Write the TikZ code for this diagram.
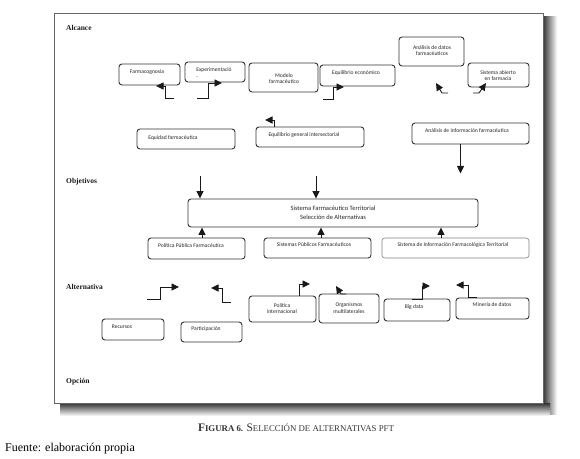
\documentclass[tikz,border=0pt]{standalone}
\usepackage{fontspec}
\setmainfont{Liberation Serif}
\newfontfamily\boxfont{Carlito}
\usetikzlibrary{arrows.meta}
\tikzset{
  box/.style={draw=black!80, line width=0.9pt, rounded corners=3pt, fill=white, inner sep=0pt},
  lbl/.style={font=\boxfont\fontsize{5.6}{6.8}\selectfont, align=center, inner sep=0pt, text=black!85},
  sec/.style={font=\bfseries\fontsize{7.5}{9}\selectfont, anchor=west, inner sep=0pt, text=black!90},
  arr/.style={line width=0.9pt, draw=black!90, -{Triangle[length=7.5pt,width=7pt]}},
}
\begin{document}
\begin{tikzpicture}[x=1pt,y=-1pt]
\useasboundingbox (0,0) rectangle (580,458);
% shadow and frame
\shade[left color=black!80, right color=white] (543,16) rectangle (557,414);
\shade[top color=black!80, bottom color=white] (60,403) rectangle (550,416);
\draw[draw=black!60, line width=0.8pt, fill=white] (54,13) rectangle (543,403);
% section labels
\node[sec] (alc) at (66,28) {Alcance};
\node[sec] (obj) at (66,182) {Objetivos};
\node[sec] (alt) at (66,287) {Alternativa};
\node[sec] (opc) at (66,382) {Opción};
% Alcance boxes
\node[box, minimum width=61pt, minimum height=21pt] (farm) at (149.5,74.5) {};
\node[lbl] (tfarm) at (147,72) {Farmacognosia};
\node[box, minimum width=60pt, minimum height=20pt] (exp) at (215,72) {};
\node[lbl, align=left] (texp) at (214,73) {Experimentació\\-};
\node[box, minimum width=69pt, minimum height=29pt] (mod) at (283.5,77.5) {};
\node[lbl] (tmod) at (284,78.5) {Modelo\\farmacéutico};
\node[box, minimum width=75pt, minimum height=21pt] (eqe) at (357.5,75.5) {};
\node[lbl] (teqe) at (356,73) {Equilibrio económico};
\node[box, minimum width=65pt, minimum height=29pt] (adf) at (431.5,51.5) {};
\node[lbl] (tadf) at (432,50.5) {Análisis de datos\\farmacéuticos};
\node[box, minimum width=61pt, minimum height=24pt] (saf) at (498.5,75) {};
\node[lbl] (tsaf) at (498,75.5) {Sistema abierto\\en farmacia};
\node[box, minimum width=98pt, minimum height=20pt] (eqf) at (186,139) {};
\node[lbl] (teqf) at (173,138) {Equidad farmacéutica};
\node[box, minimum width=108pt, minimum height=20pt] (egi) at (310,137) {};
\node[lbl] (tegi) at (304,135) {Equilibrio general intersectorial};
\node[box, minimum width=117pt, minimum height=21pt] (aif) at (470.5,133.5) {};
\node[lbl] (taif) at (467,131) {Análisis de información farmacéutica};
% Objetivos
\node[box, minimum width=290pt, minimum height=28pt] (cb) at (333,213) {};
\node[lbl, font=\boxfont\fontsize{6.5}{9.5}\selectfont] (tcb) at (333,213) {Sistema Farmacéutico Territorial\\Selección de Alternativas};
\node[box, minimum width=97pt, minimum height=21pt] (ppf) at (196.5,248.5) {};
\node[lbl] (tppf) at (191,246) {Política Pública Farmacéutica};
\node[box, minimum width=107pt, minimum height=20pt] (spf) at (317.5,248) {};
\node[lbl] (tspf) at (314,245) {Sistemas Públicos Farmacéuticos};
\node[box, draw=black!50, line width=0.6pt, minimum width=147pt, minimum height=20pt] (sif) at (455.5,248) {};
\node[lbl] (tsif) at (453,245) {Sistema de Información Farmacológica Territorial};
% Alternativa
\node[box, minimum width=62pt, minimum height=21pt] (rec) at (133,329.5) {};
\node[lbl] (trec) at (122,327) {Recursos};
\node[box, minimum width=61pt, minimum height=20pt] (par) at (211.5,332) {};
\node[lbl] (tpar) at (206,329) {Participación};
\node[box, minimum width=67pt, minimum height=26pt] (pin) at (282.5,309) {};
\node[lbl] (tpin) at (282,308.5) {Política\\internacional};
\node[box, minimum width=60pt, minimum height=29pt] (org) at (349,308.5) {};
\node[lbl] (torg) at (349,308) {Organismos\\multilaterales};
\node[box, minimum width=66pt, minimum height=22pt] (big) at (417,310) {};
\node[lbl] (tbig) at (414,307) {Big data};
\node[box, minimum width=73pt, minimum height=21pt] (min) at (492.5,308.5) {};
\node[lbl] (tmin) at (492,305) {Minería de datos};
% coordinates for straight arrows
\coordinate (t1) at (200,176);
\coordinate (t2) at (316,176);
\coordinate (u1) at (202,0);
\coordinate (u2) at (321,0);
\coordinate (u3) at (441,0);
\draw[arr] (t1) -- (t1 |- cb.north);
\draw[arr] (t2) -- (t2 |- cb.north);
\draw[arr] ([xshift=-10pt]aif.south) -- ++(0,29);
\draw[arr] (u1 |- ppf.north) -- (u1 |- cb.south);
\draw[arr] (u2 |- spf.north) -- (u2 |- cb.south);
\draw[arr] (u3 |- sif.north) -- (u3 |- cb.south);
% elbow arrows (free ends)
\coordinate (a1) at (174,98);   \coordinate (b1) at (165,86);
\draw[arr] (a1) -| (b1) -- (156,86);
\coordinate (a2) at (197,98);   \coordinate (b2) at (208,83);
\draw[arr] (a2) -| (b2) -- (222,83);
\coordinate (a3) at (323,99);   \coordinate (b3) at (333,87);
\draw[arr] (a3) -| (b3) -- (344,87);
\coordinate (a4) at (274,127);  \coordinate (b4) at (265,120);
\draw[arr] (a4) |- (b4);
\coordinate (a5) at (448,93);   \coordinate (b5) at (436,83);
\draw[arr] (a5) -- (442,93) -- (b5);
\coordinate (a6) at (473,93);   \coordinate (b6) at (486,83);
\draw[arr] (a6) -- (479,93) -- (b6);
\coordinate (a7) at (147,299);  \coordinate (b7) at (160,287);
\draw[arr] (a7) -| (b7) -- (179,287);
\coordinate (a8) at (231,302);  \coordinate (b8) at (222,288);
\draw[arr] (a8) -| (b8) -- (211,288);
\coordinate (a9) at (299,296);  \coordinate (b9) at (310,284);
\draw[arr] (a9) |- (b9);
\coordinate (a10) at (346,294); \coordinate (b10) at (336,286);
\draw[arr] (a10) -- (341,294) -- (b10);
\coordinate (a11) at (412,299); \coordinate (b11) at (422,286);
\draw[arr] (a11) -| (b11) -- (430,286);
\coordinate (a12) at (477,297); \coordinate (b12) at (468,285);
\draw[arr] (a12) -| (b12) -- (456,285);
% caption
\node[inner sep=0pt, text=black!80] (cap) at (296,428) {{\bfseries\fontsize{11.5}{13}\selectfont F\fontsize{8.8}{13}\selectfont IGURA 6.} {\fontsize{11.5}{13}\selectfont S\fontsize{8.8}{13}\selectfont ELECCIÓN DE ALTERNATIVAS PFT}};
\node[inner sep=0pt, anchor=west, font=\fontsize{12}{14}\selectfont] (fue) at (5,449) {Fuente: elaboración propia};
\end{tikzpicture}
\end{document}
